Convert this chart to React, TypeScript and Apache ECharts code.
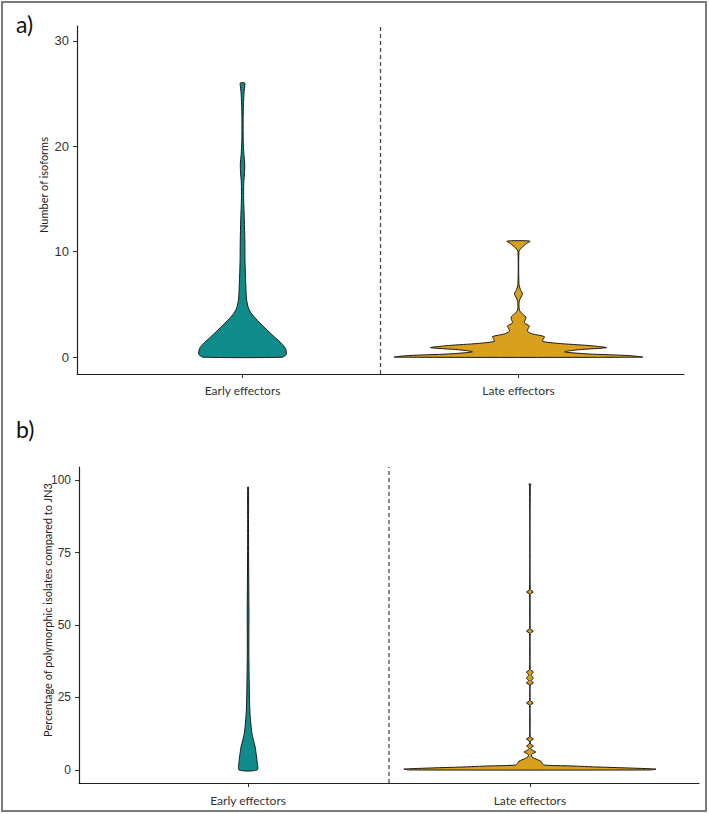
import React, { useEffect, useRef } from "react";
import * as echarts from "echarts";

// ---------- data ----------
const categories = ["Early effectors", "Late effectors"];
const isoTicks = [0, 10, 20, 30];
const pctTicks = [0, 25, 50, 75, 100];

// Panel a: number of isoforms — violin outlines (value, half-width in category units)
const earlyIsoY = [0, 0.3, 0.8, 1.2, 2, 3, 4, 4.6, 5.5, 7, 9, 11, 13, 15, 16.5, 17.5, 18.3, 19.2, 20.5, 22.5, 24, 25.2, 25.7, 26];
const earlyIsoW = [0.145, 0.159, 0.156, 0.145, 0.112, 0.072, 0.036, 0.022, 0.0145, 0.0116, 0.009, 0.0083, 0.0065, 0.004, 0.0043, 0.0072, 0.008, 0.005, 0.0025, 0.0022, 0.0033, 0.0058, 0.008, 0.008];

const lateIsoY = [0, 0.15, 0.3, 0.5, 0.7, 0.9, 1.1, 1.3, 1.5, 1.75, 1.95, 2.2, 2.45, 2.75, 2.95, 3.25, 3.55, 3.8, 4.1, 4.45, 5.2, 5.6, 6.0, 6.4, 6.9, 10.0, 10.3, 10.7, 11];
const lateIsoW = [0.449, 0.399, 0.254, 0.167, 0.217, 0.319, 0.254, 0.145, 0.087, 0.091, 0.094, 0.051, 0.033, 0.036, 0.04, 0.022, 0.025, 0.027, 0.0145, 0.0036, 0.0022, 0.0072, 0.0145, 0.0072, 0.0018, 0.0018, 0.009, 0.025, 0.042];

// Panel b: percentage of polymorphic isolates compared to JN3
const earlyPctY = [0, 3, 6, 8, 10, 12.5, 15, 20, 28, 40, 55, 70, 85, 97.6];
const earlyPctW = [0.032, 0.032, 0.028, 0.025, 0.0195, 0.014, 0.0106, 0.0064, 0.0043, 0.0028, 0.003, 0.002, 0.0015, 0.0015];

const latePctY = [0, 0.3, 0.7, 1.0, 1.4, 1.7, 2.4, 3.0, 3.5, 4.0, 4.5, 5.3, 5.8, 6.2, 6.7, 7.3, 7.8, 8.3, 8.9, 10.0, 10.7, 11.4, 22.3, 23.1, 23.9, 29.3, 30.0, 30.8, 31.7, 32.7, 33.8, 34.6, 47.1, 47.9, 48.7, 60.6, 61.4, 62.2, 98.0, 98.6];
const latePctW = [0.426, 0.447, 0.344, 0.245, 0.142, 0.05, 0.043, 0.039, 0.028, 0.016, 0.007, 0.0053, 0.014, 0.021, 0.011, 0.0025, 0.0053, 0.0124, 0.0025, 0.0025, 0.0124, 0.0012, 0.0012, 0.0124, 0.0012, 0.0012, 0.0124, 0.004, 0.0124, 0.004, 0.0124, 0.0012, 0.0012, 0.0124, 0.0012, 0.0012, 0.0124, 0.0012, 0.0012, 0.004];

const TEAL = "#108b8b";
const GOLD = "#d8a01c";
const OUTLINE = "#1a1a1a";
const LABEL_FONT = "Lato, 'Open Sans', sans-serif";
const TICK_FONT = "'Liberation Sans', Arial, sans-serif";

function violin(pos: number, ys: number[], ws: number[], color: string, gi: number) {
  return {
    type: "custom",
    xAxisIndex: gi,
    yAxisIndex: gi,
    clip: false,
    silent: true,
    data: [[pos, ys[0]]],
    renderItem: (_params: any, api: any) => {
      const pts: number[][] = [];
      for (let i = 0; i < ys.length; i++) pts.push(api.coord([pos + ws[i], ys[i]]));
      for (let i = ys.length - 1; i >= 0; i--) pts.push(api.coord([pos - ws[i], ys[i]]));
      return {
        type: "polygon",
        shape: { points: pts, smooth: 0.25 },
        style: { fill: color, stroke: OUTLINE, lineWidth: 1 },
      };
    },
  };
}

function divider(gi: number, yMin: number, yMax: number) {
  return {
    type: "line",
    xAxisIndex: gi,
    yAxisIndex: gi,
    silent: true,
    symbol: "none",
    data: [
      [1.5, yMin],
      [1.5, yMax],
    ],
    lineStyle: { color: "#4a4a4a", width: 1.3, type: [4, 3] },
  };
}

function xAxisCfg(gi: number, margin: number) {
  return {
    type: "value",
    gridIndex: gi,
    min: 0.4,
    max: 2.6,
    splitLine: { show: false },
    axisLine: { show: true, onZero: false, lineStyle: { color: "#222", width: 1.2 } },
    axisTick: { show: true, customValues: [1, 2], length: 4, lineStyle: { color: "#333" } },
    axisLabel: {
      customValues: [1, 2],
      margin,
      color: "#333",
      fontSize: 12,
      fontFamily: LABEL_FONT,
      formatter: (v: number) => categories[Math.round(v) - 1] || "",
    },
  };
}

function yAxisCfg(gi: number, min: number, max: number, ticks: number[], fs: number) {
  return {
    type: "value",
    gridIndex: gi,
    min,
    max,
    splitLine: { show: false },
    axisLine: { show: true, onZero: false, lineStyle: { color: "#222", width: 1.2 } },
    axisTick: { show: true, customValues: ticks, length: 4, lineStyle: { color: "#333" } },
    axisLabel: {
      customValues: ticks,
      margin: 8,
      color: "#333",
      fontSize: fs,
      fontFamily: TICK_FONT,
    },
  };
}

export default function App() {
  const ref = useRef<HTMLDivElement>(null);
  useEffect(() => {
    if (!ref.current) return;
    const chart = echarts.init(ref.current, undefined, { renderer: "svg" });
    const aMin = -1.6,
      aMax = 31.4,
      bMin = -4.5,
      bMax = 104.5;
    chart.setOption({
      animation: false,
      backgroundColor: "#ffffff",
      grid: [
        { left: 77, top: 26, width: 607, height: 348 },
        { left: 79, top: 467, width: 620, height: 316 },
      ],
      xAxis: [xAxisCfg(0, 10), xAxisCfg(1, 11)],
      yAxis: [yAxisCfg(0, aMin, aMax, isoTicks, 13), yAxisCfg(1, bMin, bMax, pctTicks, 12)],
      series: [
        divider(0, aMin, aMax),
        divider(1, bMin, bMax),
        violin(1, earlyIsoY, earlyIsoW, TEAL, 0),
        violin(2, lateIsoY, lateIsoW, GOLD, 0),
        violin(1, earlyPctY, earlyPctW, TEAL, 1),
        violin(2, latePctY, latePctW, GOLD, 1),
      ],
      graphic: [
        {
          type: "rect",
          shape: { x: 2, y: 2, width: 704, height: 809 },
          style: { fill: "none", stroke: "#7a7a7a", lineWidth: 2 },
          silent: true,
        },
        {
          type: "text",
          x: 16,
          y: 12,
          style: { text: "a)", fontSize: 23, fontFamily: LABEL_FONT, fill: "#111" },
        },
        {
          type: "text",
          x: 16,
          y: 417,
          style: { text: "b)", fontSize: 23, fontFamily: LABEL_FONT, fill: "#111" },
        },
        {
          type: "text",
          x: 43,
          y: 185,
          rotation: Math.PI / 2,
          style: {
            text: "Number of isoforms",
            fontSize: 11,
            fontFamily: LABEL_FONT,
            fill: "#222",
            align: "center",
            verticalAlign: "middle",
          },
        },
        {
          type: "text",
          x: 47,
          y: 610,
          rotation: Math.PI / 2,
          style: {
            text: "Percentage of polymorphic isolates compared to JN3",
            fontSize: 11,
            fontFamily: LABEL_FONT,
            fill: "#222",
            align: "center",
            verticalAlign: "middle",
          },
        },
      ],
    });
    return () => chart.dispose();
  }, []);
  return (
    <div
      ref={ref}
      style={{ position: "absolute", left: 0, top: 0, width: 709, height: 814 }}
    />
  );
}
